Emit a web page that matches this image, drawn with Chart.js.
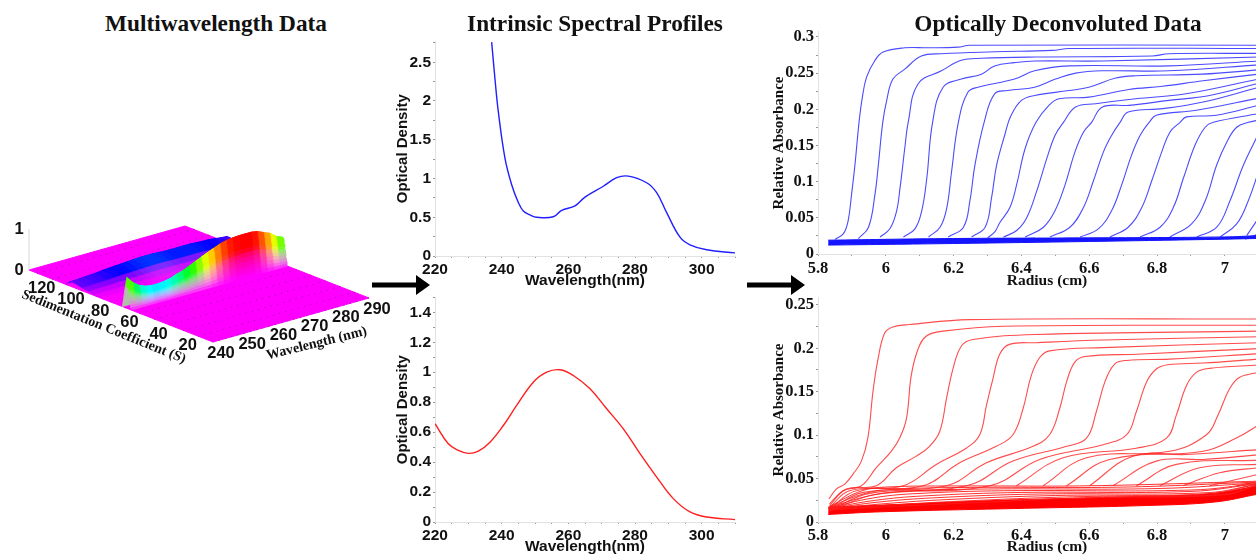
<!DOCTYPE html>
<html>
<head>
<meta charset="utf-8">
<script src="https://cdn.jsdelivr.net/npm/chart.js@4"></script>
<style>
  html, body { margin: 0; padding: 0; background: #fff; }
  #page { position: relative; width: 1256px; height: 556px; overflow: hidden; }
  #page canvas { position: absolute; }
  .title { position: absolute; top: 10px; font: bold 23.3px "Liberation Serif", serif; color: #111; white-space: nowrap; transform: translateX(-50%); }
  svg { position: absolute; }
</style>
</head>
<body>
<div id="page">
  <canvas id="surface" width="400" height="200" style="left:0;top:180px"></canvas>
  <canvas id="blueSpectrum" width="360" height="260" style="left:385px;top:30px"></canvas>
  <canvas id="redSpectrum" width="360" height="270" style="left:385px;top:286px"></canvas>
  <canvas id="blueRadial" width="506" height="270" style="left:770px;top:20px"></canvas>
  <canvas id="redRadial" width="506" height="270" style="left:770px;top:286px"></canvas>
  <div class="title" style="left:216px">Multiwavelength Data</div>
  <div class="title" style="left:595px">Intrinsic Spectral Profiles</div>
  <div class="title" style="left:1058px">Optically Deconvoluted Data</div>
  <svg style="left:372px;top:272px" width="60" height="26"><path d="M0 10.5H44V3L58 13 44 23V15.5H0Z" fill="#000"/></svg>
  <svg style="left:747px;top:272px" width="60" height="26"><path d="M0 10.5H44V3L58 13 44 23V15.5H0Z" fill="#000"/></svg>
</div>

<script>
// intrinsic spectra
const blueSpectrumPoints = [[237,2.76],[238,2.28],[239,1.86],[241,1.26],[243,0.92],[245,0.69],[246.5,0.58],[248.5,0.53],[250.5,0.5],[255.5,0.506],[258,0.59],[262,0.647],[265,0.76],[270.5,0.9],[274.5,1.01],[278,1.03],[283.5,0.945],[286.5,0.817],[289.5,0.56],[293.5,0.243],[296.5,0.145],[301.5,0.08],[310,0.04]];
const redSpectrumPoints = [[220,0.656],[224,0.522],[227,0.478],[230,0.458],[233,0.473],[236.5,0.533],[240.5,0.644],[244.5,0.778],[249.5,0.933],[253.5,1.0],[257.5,1.016],[261.5,0.978],[266.5,0.889],[271.5,0.756],[276.5,0.622],[281.5,0.456],[286.5,0.3],[291.5,0.156],[296.5,0.067],[301.5,0.033],[310,0.016]];

// blue scans, radius (cm) / absorbance
const blueScans = [
  [[5.85,.02],[5.875,.0281],[5.889,.0462],[5.899,.0825],[5.909,.1232],[5.921,.182],[5.93,.2141],[5.943,.2441],[5.967,.2668],[5.992,.2791],[6.056,.285],[6.125,.285],[6.213,.2859],[6.247,.2886],[7.1,.2886]],
  [[5.919,.0212],[5.949,.037],[5.968,.0824],[5.978,.1231],[5.991,.182],[6.003,.2132],[6.021,.2418],[6.056,.2555],[6.105,.2736],[6.164,.2768],[6.321,.2795],[6.491,.2814],[6.54,.2841],[7.1,.2841]],
  [[5.983,.0235],[6.012,.0348],[6.032,.0597],[6.042,.0914],[6.057,.1503],[6.066,.182],[6.095,.235],[6.164,.2532],[6.223,.2677],[6.282,.2705],[6.439,.2723],[6.786,.2736],[6.835,.2768],[7.1,.2773]],
  [[6.052,.0235],[6.086,.0348],[6.106,.0597],[6.121,.105],[6.138,.182],[6.169,.2305],[6.223,.2418],[6.282,.2486],[6.321,.26],[6.38,.2645],[6.439,.2668],[6.639,.2668],[7.1,.2723]],
  [[6.126,.0235],[6.16,.037],[6.18,.0642],[6.194,.114],[6.214,.182],[6.242,.2236],[6.272,.2305],[6.38,.2418],[6.439,.2532],[6.54,.26],[6.835,.26],[7.1,.2668]],
  [[6.184,.0235],[6.229,.037],[6.248,.0733],[6.263,.1231],[6.29,.182],[6.321,.2214],[6.36,.2259],[6.439,.2305],[6.501,.2418],[6.56,.25],[6.639,.2532],[6.835,.2532],[7.1,.2614]],
  [[6.253,.0235],[6.293,.037],[6.312,.0778],[6.327,.1231],[6.352,.1662],[6.368,.19],[6.4,.2123],[6.439,.2191],[6.54,.2259],[6.599,.2305],[6.678,.2432],[6.737,.2464],[6.933,.2486],[7.1,.2545]],
  [[6.3,.022],[6.322,.031],[6.337,.0439],[6.366,.0642],[6.386,.0959],[6.411,.1458],[6.443,.182],[6.481,.2055],[6.511,.2145],[6.599,.2168],[6.717,.2273],[6.816,.2318],[6.936,.2395],[7.1,.2486]],
  [[6.347,.0235],[6.386,.0325],[6.416,.0506],[6.445,.0869],[6.475,.1322],[6.499,.1639],[6.524,.182],[6.56,.2032],[6.619,.2077],[6.737,.2145],[6.885,.2214],[7.1,.2418]],
  [[6.411,.0235],[6.465,.037],[6.499,.0597],[6.529,.0959],[6.558,.1412],[6.583,.1684],[6.607,.182],[6.639,.2032],[6.717,.2055],[6.835,.2123],[6.955,.2191],[7.1,.2359]],
  [[6.484,.0235],[6.543,.037],[6.583,.0642],[6.612,.1005],[6.642,.1412],[6.666,.1639],[6.691,.182],[6.715,.1964],[6.818,.2009],[6.936,.21],[7.1,.2305]],
  [[6.573,.0235],[6.627,.0348],[6.666,.0597],[6.696,.0959],[6.725,.1367],[6.75,.1639],[6.777,.182],[6.798,.1918],[6.916,.1986],[7.1,.2155]],
  [[6.661,.0235],[6.715,.037],[6.755,.0642],[6.784,.1005],[6.814,.1412],[6.838,.1684],[6.868,.182],[6.887,.1895],[6.975,.1918],[7.1,.2055]],
  [[6.75,.0235],[6.809,.037],[6.848,.0642],[6.878,.105],[6.912,.1503],[6.942,.1752],[6.966,.182],[7.1,.1941]],
  [[6.838,.0235],[6.902,.0416],[6.942,.0733],[6.976,.1231],[7.006,.1548],[7.035,.1752],[7.07,.182],[7.1,.185]],
  [[6.917,.0235],[6.976,.037],[7.015,.0733],[7.055,.1231],[7.1,.1668]],
  [[6.986,.0235],[7.035,.0416],[7.069,.0733],[7.1,.1145]],
  [[7.065,.0257],[7.1,.05]],
  [[7.06,.0205],[7.1,.028]]
];
const blueBandLow = [[5.83,.0123],[6.2,.0145],[6.6,.0173],[7,.0205],[7.1,.0215]];
const blueBandHigh = [[5.83,.0191],[6.2,.0214],[6.6,.0223],[7,.0236],[7.1,.0255]];

// red scans
const redScans = [
  [[5.832,.0265],[5.854,.0379],[5.879,.0436],[5.903,.0549],[5.928,.0701],[5.947,.0966],[5.962,.1496],[5.977,.1875],[5.997,.2178],[6.021,.2246],[6.07,.2273],[6.247,.233],[7.1,.2337]],
  [[5.834,.0208],[5.874,.036],[5.928,.0417],[5.972,.0625],[6.016,.0814],[6.041,.0966],[6.061,.1193],[6.075,.1686],[6.095,.1989],[6.12,.2141],[6.169,.2197],[6.346,.2254],[7.1,.2265]],
  [[5.834,.0189],[5.884,.0379],[5.972,.0417],[6.031,.0625],[6.09,.0758],[6.129,.0871],[6.159,.1042],[6.179,.142],[6.198,.1761],[6.223,.2027],[6.257,.2102],[6.444,.2159],[7.1,.2197]],
  [[5.834,.017],[5.893,.036],[6.051,.0417],[6.149,.0663],[6.238,.0852],[6.277,.1004],[6.297,.1345],[6.316,.1648],[6.336,.1932],[6.365,.2045],[6.444,.2064],[6.641,.2095],[7.1,.2133]],
  [[5.834,.0152],[5.913,.036],[6.11,.0417],[6.218,.0682],[6.326,.0871],[6.375,.1004],[6.405,.1307],[6.429,.1686],[6.454,.1894],[6.483,.197],[6.641,.2008],[7.1,.2064]],
  [[5.834,.0141],[5.933,.0341],[6.179,.0417],[6.297,.0682],[6.434,.0871],[6.483,.1004],[6.513,.1307],[6.533,.161],[6.557,.1837],[6.587,.1905],[6.739,.1932],[7.1,.1996]],
  [[5.834,.0133],[5.952,.033],[6.238,.0417],[6.375,.0701],[6.533,.0871],[6.592,.0966],[6.621,.1269],[6.646,.161],[6.675,.1818],[6.71,.186],[6.837,.1875],[7.1,.1939]],
  [[5.834,.0125],[5.972,.032],[6.306,.0417],[6.454,.072],[6.641,.089],[6.71,.1004],[6.739,.1269],[6.769,.161],[6.798,.1761],[6.832,.1811],[6.936,.183],[7.1,.1875]],
  [[6.385,.0417],[6.523,.0739],[6.739,.085],[6.828,.0966],[6.857,.1231],[6.887,.1572],[6.916,.1723],[6.955,.1769],[7.1,.1807]],
  [[6.464,.0417],[6.592,.0739],[6.837,.0814],[6.946,.1004],[6.98,.1231],[7.014,.1534],[7.044,.1667],[7.1,.1723]],
  [[6.533,.0417],[6.66,.072],[6.936,.0814],[7.034,.0966],[7.1,.1117]],
  [[6.601,.0417],[6.729,.0758],[6.887,.0777],[7.1,.0833]],
  [[6.67,.0417],[6.798,.0701],[6.936,.072],[7.1,.0773]],
  [[6.739,.0417],[6.857,.0663],[7.1,.0712]],
  [[6.808,.0417],[6.926,.0625],[7.1,.0663]],
  [[6.877,.0417],[6.985,.0568],[7.1,.0625]],
  [[6.955,.0417],[7.1,.0549]],
  [[7.034,.0417],[7.1,.0466]]
];
// slow scans bunched up near the meniscus
const redFanScans = [
  [[5.834,.018],[5.93,.036],[6,.0402],[6.2,.0415],[6.6,.0417],[7.1,.047]],
  [[5.834,.0175],[5.94,.033],[6.03,.0378],[6.25,.0398],[6.7,.0402],[7.1,.046]],
  [[5.834,.017],[5.95,.03],[6.05,.0352],[6.3,.038],[6.8,.0385],[7.1,.045]],
  [[5.834,.0165],[5.96,.0275],[6.08,.0325],[6.35,.036],[6.9,.0368],[7.1,.0445]],
  [[5.834,.016],[5.97,.025],[6.11,.03],[6.4,.034],[6.9,.0352],[7.1,.0442]],
  [[5.834,.0155],[5.98,.023],[6.14,.0278],[6.45,.0322],[6.95,.0338],[7.1,.044]],
  [[5.834,.015],[6,.0212],[6.18,.0258],[6.5,.0305],[6.95,.0325],[7.1,.0438]],
  [[5.834,.0145],[6.02,.0197],[6.22,.024],[6.55,.029],[7,.032],[7.1,.0436]],
  [[5.834,.014],[6.05,.0185],[6.3,.0228],[6.6,.028],[7,.0315],[7.1,.043]]
];
const redBandLow = [[5.83,.0087],[5.99,.0118],[6.38,.0155],[6.77,.019],[6.97,.023],[7.1,.0322]];
const redBandHigh = [[5.83,.017],[5.99,.0195],[6.38,.0255],[6.77,.0295],[6.97,.033],[7.1,.042]];

// 3d surface
const sedMax = 126;
const sedTicks = [20, 40, 60, 80, 100, 120];
const wlTicks = [240, 250, 260, 270, 280, 290];
const zTicks = [0, 1];
const surfaceWl = [240,242,244,246,248,250,252,254,256,258,260,262,264,266,268,270,272,274,276,278,280,282,284,286,288,290];
const frontRidge = [.75,.58,.47,.41,.385,.385,.4,.43,.49,.53,.6,.67,.74,.81,.87,.93,.97,.99,1,1,1,.97,.9,.84,.72,.66];
const backRidge = [.12,.13,.14,.15,.16,.18,.19,.2,.21,.22,.23,.24,.24,.24,.23,.22,.22,.22,.22,.22,.21,.2,.2,.18,.16,.15];
const frontSed = [62,60,59,58.75,58.5,58.25,58,57.75,57.5,57.25,57,56.75,56.5,56.25,56];
const frontShape = [0,.7,1,.97,.92,.85,.76,.66,.56,.46,.36,.26,.16,.07,0];
const backSed = [101,99,97,95,93,89,85,81,77,75];
const backShape = [0,.6,1,.95,.85,.6,.35,.15,.05,0];

function project(wl, sed, z) {
  const u = (wl - 240) / 50;
  const v = sed / sedMax;
  return { x: 213 + 156 * u - 184 * v, y: 342 - 44 * u - 72 * v - 41 * z };
}

function hueRgb(hue) {
  const f = n => {
    const k = (n + hue / 30) % 12;
    return 255 * (0.5 - 0.5 * Math.max(-1, Math.min(k - 3, 9 - k, 1)));
  };
  return [f(0), f(8), f(4)];
}

// top of the ridge takes the height colour, fading to the magenta floor
function surfaceColor(top, shape) {
  const rgb = hueRgb(300 * (1 - Math.min(top, 1)));
  const floor = [255, 0, 255];
  const s = Math.min(1, shape * 1.6);
  const mix = rgb.map((c, i) => Math.round(Math.sqrt(s * c * c + (1 - s) * floor[i] * floor[i])));
  return `rgb(${mix[0]},${mix[1]},${mix[2]})`;
}

function ridgeDatasets(sedRows, shape, heights) {
  const out = [];
  for (let r = 0; r < sedRows.length - 1; r++) {
    for (let w = 0; w < surfaceWl.length - 1; w++) {
      const a = project(surfaceWl[w], sedRows[r], heights[w] * shape[r]);
      const b = project(surfaceWl[w + 1], sedRows[r], heights[w + 1] * shape[r]);
      const c = project(surfaceWl[w + 1], sedRows[r + 1], heights[w + 1] * shape[r + 1]);
      const d = project(surfaceWl[w], sedRows[r + 1], heights[w] * shape[r + 1]);
      const color = surfaceColor((heights[w] + heights[w + 1]) / 2, (shape[r] + shape[r + 1]) / 2);
      out.push({ data: [a, b, c, d, a], borderColor: color, backgroundColor: color, borderWidth: 0.8, pointRadius: 0, fill: 'shape' });
    }
  }
  return out;
}

// chart.js draws dataset 0 last, so build back to front and reverse
function surfaceDatasets() {
  const plane = [project(240, sedMax, 0), project(240, 0, 0), project(290, 0, 0), project(290, sedMax, 0), project(240, sedMax, 0)];
  const dots = [];
  for (let s = 0; s <= sedMax; s += 10) {
    surfaceWl.forEach(w => dots.push(project(w, s, 0)));
  }
  const all = [
    { data: plane, borderColor: '#ff00ff', backgroundColor: '#ff00ff', borderWidth: 1, pointRadius: 0, fill: 'shape' },
    { data: [project(240, sedMax, 0), project(240, sedMax, 1)], borderColor: '#d8d8d8', borderWidth: 1, pointRadius: 0 },
    { data: dots, showLine: false, pointRadius: 0.6, pointBorderWidth: 0, pointBackgroundColor: 'rgba(110,0,120,0.55)' },
    ...ridgeDatasets(backSed, backShape, backRidge),
    ...ridgeDatasets(frontSed, frontShape, frontRidge)
  ];
  return all.reverse();
}

const surfaceLabels = {
  id: 'surfaceLabels',
  afterDatasetsDraw(chart) {
    const { ctx, scales } = chart;
    const px = p => ({ x: scales.x.getPixelForValue(p.x), y: scales.y.getPixelForValue(p.y) });
    ctx.save();
    ctx.fillStyle = '#111';
    ctx.textAlign = 'center';
    ctx.textBaseline = 'middle';
    ctx.font = 'bold 16.5px "Liberation Sans", sans-serif';
    sedTicks.forEach(s => {
      const p = px(project(240, s, 0));
      ctx.fillText(s, p.x + 4, p.y + 15);
    });
    wlTicks.forEach(w => {
      const p = px(project(w, 0, 0));
      ctx.fillText(w, p.x + 8, p.y + 11);
    });
    zTicks.forEach(z => {
      const p = px(project(240, sedMax, z));
      ctx.fillText(z, p.x - 10, p.y);
    });
    ctx.font = 'bold 14px "Liberation Serif", serif';
    ctx.save();
    const sedMid = px(project(240, 70, 0));
    ctx.translate(sedMid.x - 7, sedMid.y + 25);
    ctx.rotate(22 * Math.PI / 180);
    ctx.fillText('Sedimentation Coefficient (S)', 0, 0);
    ctx.restore();
    const wlMid = px(project(270, 0, 0));
    ctx.translate(wlMid.x + 10, wlMid.y + 28);
    ctx.rotate(-14 * Math.PI / 180);
    ctx.fillText('Wavelength (nm)', 0, 0);
    ctx.restore();
  }
};

new Chart(document.getElementById('surface'), {
  type: 'line',
  data: { datasets: surfaceDatasets() },
  plugins: [surfaceLabels],
  options: {
    responsive: false,
    animation: false,
    parsing: false,
    normalized: false,
    layout: { autoPadding: false },
    plugins: { legend: { display: false }, tooltip: { enabled: false } },
    scales: {
      x: { type: 'linear', min: 0, max: 400, display: false },
      y: { type: 'linear', min: 180, max: 380, reverse: true, display: false }
    }
  }
});

function lineSet(points, color, width) {
  return { data: points, borderColor: color, borderWidth: width, pointRadius: 0, tension: 0.4, fill: false };
}

function axisOptions(font, labelSize, axis) {
  return {
    type: 'linear',
    min: axis.min,
    max: axis.max,
    title: { display: true, text: axis.title, color: '#111', padding: axis.titlePadding, font: { family: font, size: axis.titleSize, weight: 'bold' } },
    border: { color: '#e2e2e2', width: 1 },
    grid: { drawOnChartArea: false, drawTicks: true, tickLength: 2, color: '#999' },
    afterFit: axis.fit,
    ticks: {
      stepSize: axis.step,
      includeBounds: false,
      autoSkip: false,
      maxRotation: 0,
      padding: axis.tickPadding,
      color: '#111',
      font: { family: font, size: labelSize, weight: 'bold' },
      callback: axis.label
    }
  };
}

function makePanel(id, datasets, font, labelSize, pad, xAxis, yAxis) {
  new Chart(document.getElementById(id), {
    type: 'line',
    data: { datasets },
    options: {
      responsive: false,
      animation: false,
      layout: { autoPadding: false, padding: { top: pad.top, right: pad.right, left: 0, bottom: 0 } },
      plugins: { legend: { display: false }, tooltip: { enabled: false } },
      scales: { x: axisOptions(font, labelSize, xAxis), y: axisOptions(font, labelSize, yAxis) }
    }
  });
}

const sans = '"Liberation Sans", sans-serif';
const serif = '"Liberation Serif", serif';
const fixHeight = h => scale => { scale.height = h; };
const fixWidth = w => scale => { scale.width = w; };

const wlAxis = {
  min: 220, max: 310, step: 5, title: 'Wavelength(nm)', titleSize: 15.5, titlePadding: { top: -3, bottom: 0 }, tickPadding: 2,
  fit: fixHeight(34), label: v => (v % 20 === 0 ? v : '')
};
const odLabelEvery = (v, every) => (Math.round(v * 100) % every === 0 ? String(Math.round(v * 100) / 100) : '');

makePanel('blueSpectrum', [lineSet(blueSpectrumPoints, '#1f1fff', 1.4)], sans, 15.5, { top: 9, right: 10 }, wlAxis, {
  min: 0, max: 2.77, step: 0.25, title: 'Optical Density', titleSize: 15, titlePadding: { top: 9, bottom: 0 }, tickPadding: 2,
  fit: fixWidth(50), label: v => odLabelEvery(v, 50)
});
makePanel('redSpectrum', [lineSet(redSpectrumPoints, '#ff1f1f', 1.4)], sans, 15.5, { top: 9, right: 10 }, wlAxis, {
  min: 0, max: 1.5, step: 0.1, title: 'Optical Density', titleSize: 15, titlePadding: { top: 9, bottom: 0 }, tickPadding: 2,
  fit: fixWidth(50), label: v => odLabelEvery(v, 20)
});

const radiusAxis = {
  min: 5.8, max: 7.151, step: 0.1, title: 'Radius (cm)', titleSize: 15.5, titlePadding: { top: -3, bottom: 0 }, tickPadding: 2,
  fit: fixHeight(34), label: v => (Math.round(v * 10) % 2 === 0 ? String(Math.round(v * 10) / 10) : '')
};
const absLabel = v => (Math.round(v * 1000) % 50 === 0 ? String(Math.round(v * 100) / 100) : '');

const blueSets = blueScans.map(s => lineSet(s, 'rgba(30,30,255,0.8)', 1.1));
blueSets.push({ ...lineSet(blueBandLow, '#1414ff', 1), fill: '+1', backgroundColor: '#1414ff' });
blueSets.push(lineSet(blueBandHigh, '#1414ff', 1));
makePanel('blueRadial', blueSets, serif, 16.5, { top: 8, right: 0 }, { ...radiusAxis, fit: fixHeight(36), tickPadding: 3 }, {
  min: 0, max: 0.307, step: 0.025, title: 'Relative Absorbance', titleSize: 15, titlePadding: { top: 0, bottom: 0 }, tickPadding: 2,
  fit: fixWidth(48), label: absLabel
});

const redSets = redScans.map(s => lineSet(s, 'rgba(255,30,30,0.8)', 1.1));
redFanScans.forEach(s => redSets.push(lineSet(s, '#ff1a1a', 0.9)));
redSets.push({ ...lineSet(redBandLow, '#ff0000', 1), fill: '+1', backgroundColor: '#ff0000' });
redSets.push(lineSet(redBandHigh, '#ff0000', 1));
makePanel('redRadial', redSets, serif, 16.5, { top: 9, right: 0 }, radiusAxis, {
  min: 0, max: 0.258, step: 0.025, title: 'Relative Absorbance', titleSize: 15, titlePadding: { top: 0, bottom: 0 }, tickPadding: 2,
  fit: fixWidth(48), label: absLabel
});
</script>
</body>
</html>
